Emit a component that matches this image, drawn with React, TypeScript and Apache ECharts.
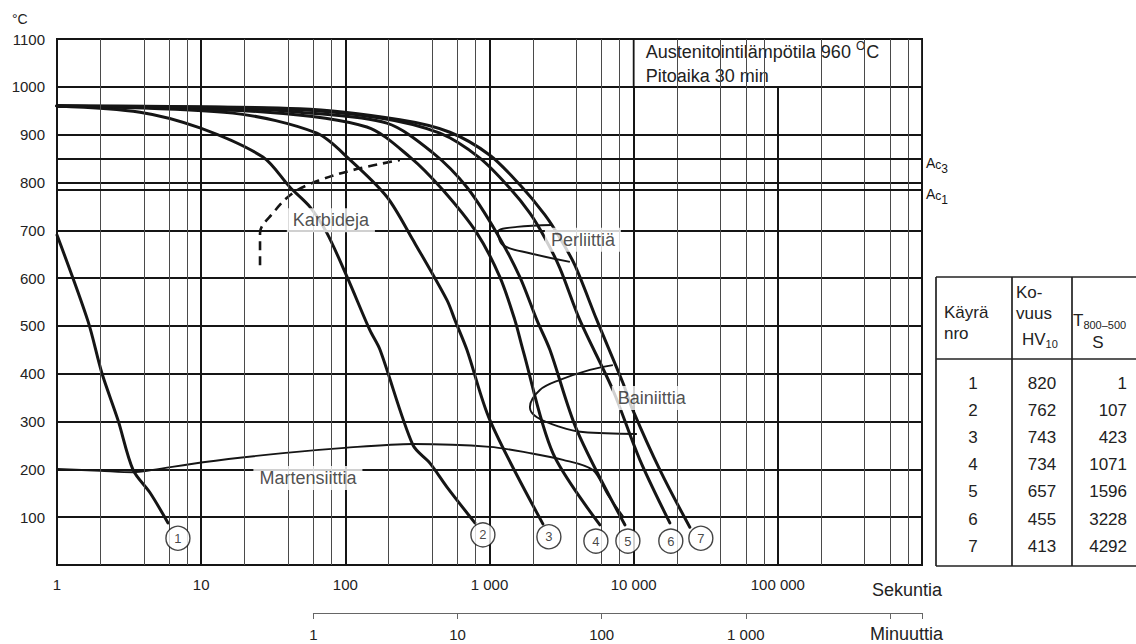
import React, { useEffect, useRef } from 'react';
import * as echarts from 'echarts';

const FONT = '"Liberation Sans", Arial, Helvetica, sans-serif';
const INK = '#151515';

// ---- cooling curves: time (s) / temperature (°C) ----
const curve1Time = [1, 1.64, 2.05, 2.65, 3.37, 4.42, 5.89];
const curve1Temp = [690, 510, 401, 303, 199, 151, 88];

const curve2Time = [1, 3.76, 9.81, 26.8, 41.3, 56.8, 74.6, 103, 148, 174, 294, 386, 507, 792];
const curve2Temp = [960, 947, 914, 853, 790, 749, 694, 602, 491, 450, 251, 213, 163, 88];

const curve3Time = [1, 16.6, 63.5, 108, 194, 294, 507, 576, 697, 1006, 2346];
const curve3Temp = [960, 945, 903, 847, 770, 680, 554, 512, 450, 303, 86];

const curve4Time = [1, 28.6, 141, 281, 475, 818, 1181, 1500, 1705, 2753, 5830];
const curve4Temp = [960, 947, 916, 853, 784, 694, 602, 512, 450, 234, 84];

const curve5Time = [1, 21.8, 48.4, 194, 405, 697, 1125, 1625, 2132, 2624, 4037, 8690];
const curve5Temp = [960, 954, 947, 924, 862, 790, 694, 602, 512, 450, 282, 84];

const curve6Time = [1, 35.2, 174, 453, 858, 1385, 1906, 2422, 3077, 4236, 7174, 11040, 17820];
const curve6Temp = [960, 954, 935, 903, 851, 788, 736, 684, 621, 512, 366, 220, 88];

const curve7Time = [1, 48.4, 239, 531, 1006, 1625, 2422, 3077, 3910, 5557, 8418, 9874, 15200, 24530];
const curve7Temp = [960, 954, 931, 905, 857, 795, 732, 684, 627, 512, 381, 324, 199, 79];

// ---- transformation lines ----
const msTime = [1, 2.0, 3.37, 4.63, 10.3, 37, 99, 294, 1006, 1910, 3237, 5190, 6640, 8530];
const msTemp = [201, 197, 194, 199, 215, 234, 245, 253, 247, 234, 220, 199, 146, 100];

const perliteTime = [2753, 1549, 1144, 1238, 1906, 3611];
const perliteTemp = [711, 707, 697, 669, 652, 634];

const bainiteTime = [7174, 4970, 3077, 2236, 1906, 2132, 3077, 4443, 10525];
const bainiteTemp = [418, 408, 387, 366, 330, 309, 289, 278, 274];

const carbideTime = [25.6, 25.6, 31.5, 43.3, 66.7, 113, 239];
const carbideTemp = [627, 694, 736, 778, 805, 826, 847];

// ---- critical temperatures ----
const acValues = [850, 785];
const acSubs = ['3', '1'];

// ---- region labels ----
const regionNames = ['Karbideja', 'Perliittiä', 'Bainiittia', 'Martensiittia'];
const regionTime = [79.4, 4446, 13370, 55];
const regionTemp = [721, 680, 349, 182];

// ---- curve number circles ----
const circleNames = ['1', '2', '3', '4', '5', '6', '7'];
const circleTime = [6.9, 900, 2582, 5470, 9120, 18100, 29240];
const circleTemp = [56, 63, 59, 50, 50, 50, 56];

// ---- table ----
const tableCurve = [1, 2, 3, 4, 5, 6, 7];
const tableHardness = [820, 762, 743, 734, 657, 455, 413];
const tableT85 = [1, 107, 423, 1071, 1596, 3228, 4292];

// ---- axis ticks ----
const decades = [1, 10, 100, 1000, 10000, 100000];
const minorMultipliers = [2, 4, 6, 8];
const minuteLabels = [1, 10, 100, 1000];

const GRID = { left: 57, top: 39, width: 865, height: 526 };

const pairs = (t: number[], T: number[]) => t.map((v, i) => [v, T[i]]);
const spaced = (n: number) => String(n).replace(/\B(?=(\d{3})+(?!\d))/g, ' ');

function buildOption(): any {
  const curves = [
    [curve1Time, curve1Temp],
    [curve2Time, curve2Temp],
    [curve3Time, curve3Temp],
    [curve4Time, curve4Temp],
    [curve5Time, curve5Temp],
    [curve6Time, curve6Temp],
    [curve7Time, curve7Temp],
  ];
  const minorValues: number[] = [];
  decades.forEach((d) => minorMultipliers.forEach((m) => minorValues.push(d * m)));

  const minuteOffset = (GRID.width * Math.log10(60)) / 6;

  const lineBase = {
    type: 'line',
    xAxisIndex: 0,
    yAxisIndex: 0,
    showSymbol: false,
    symbol: 'none',
    silent: true,
    animation: false,
  };

  const series: any[] = [];

  // minor vertical grid lines
  series.push({
    ...lineBase,
    name: 'minor',
    data: [],
    z: 1,
    markLine: {
      silent: true,
      symbol: ['none', 'none'],
      label: { show: false },
      lineStyle: { color: '#4a4a4a', width: 1, type: 'solid' },
      emphasis: { disabled: true },
      data: minorValues.map((v) => ({ xAxis: v })),
    },
  });

  // Ac lines
  series.push({
    ...lineBase,
    name: 'Ac',
    data: [],
    z: 2,
    markLine: {
      silent: true,
      symbol: ['none', 'none'],
      lineStyle: { color: INK, width: 1.9, type: 'solid' },
      emphasis: { disabled: true },
      label: {
        show: true,
        position: 'end',
        distance: 4,
        color: INK,
        fontFamily: FONT,
        fontSize: 14,
        padding: [8, 0, 0, 0],
        formatter: (p: any) => 'A{c|c}{n|' + p.name + '}',
        rich: {
          c: { fontSize: 12, fontFamily: FONT, color: INK, padding: [4, 0, 0, 0] },
          n: { fontSize: 12, fontFamily: FONT, color: INK, padding: [12, 0, 0, 0] },
        },
      },
      data: acValues.map((v, i) => ({ yAxis: v, name: acSubs[i] })),
    },
  });

  // info box
  series.push({
    ...lineBase,
    name: 'box',
    data: [],
    z: 3,
    markArea: {
      silent: true,
      itemStyle: { color: '#fff', borderColor: INK, borderWidth: 1.8 },
      label: {
        show: true,
        position: 'insideTopLeft',
        distance: 0,
        padding: [2, 0, 0, 13],
        color: '#222',
        fontFamily: FONT,
        fontSize: 18,
        lineHeight: 24,
        formatter: 'Austenitointilämpötila 960 {sup|O}C\nPitoaika 30 min',
        rich: {
          sup: { fontSize: 12, fontFamily: FONT, color: '#222', padding: [0, 1, 12, 0] },
        },
      },
      data: [[{ coord: [10000, 1000] }, { coord: [1000000, 1100] }]],
    },
  });

  curves.forEach((c, i) => {
    series.push({
      ...lineBase,
      name: 'Käyrä ' + (i + 1),
      data: pairs(c[0], c[1]),
      smooth: 0.3,
      z: 4,
      lineStyle: { color: INK, width: 3, cap: 'round', join: 'round' },
    });
  });

  series.push({
    ...lineBase,
    name: 'Ms',
    data: pairs(msTime, msTemp),
    smooth: 0.3,
    z: 4,
    lineStyle: { color: INK, width: 1.9 },
  });
  series.push({
    ...lineBase,
    name: 'Perliitti',
    data: pairs(perliteTime, perliteTemp),
    smooth: 0.35,
    z: 4,
    lineStyle: { color: INK, width: 1.9 },
  });
  series.push({
    ...lineBase,
    name: 'Bainiitti',
    data: pairs(bainiteTime, bainiteTemp),
    smooth: 0.35,
    z: 4,
    lineStyle: { color: INK, width: 1.9 },
  });
  series.push({
    ...lineBase,
    name: 'Karbidit',
    data: pairs(carbideTime, carbideTemp),
    smooth: 0.35,
    z: 4,
    lineStyle: { color: INK, width: 2.6, type: [9, 6] },
  });

  series.push({
    type: 'scatter',
    name: 'labels',
    xAxisIndex: 0,
    yAxisIndex: 0,
    silent: true,
    z: 6,
    symbol: 'circle',
    symbolSize: 1,
    itemStyle: { color: '#fff' },
    label: {
      show: true,
      position: 'inside',
      formatter: (p: any) => p.name,
      color: '#222',
      fontFamily: FONT,
      fontSize: 18,
      backgroundColor: '#fff',
      padding: [3, 6, 3, 6],
    },
    data: regionNames.map((n, i) => ({ name: n, value: [regionTime[i], regionTemp[i]] })),
  });

  series.push({
    type: 'scatter',
    name: 'circles',
    xAxisIndex: 0,
    yAxisIndex: 0,
    silent: true,
    z: 7,
    symbol: 'circle',
    symbolSize: 24,
    itemStyle: { color: '#fff', borderColor: INK, borderWidth: 1.4 },
    label: {
      show: true,
      position: 'inside',
      formatter: (p: any) => p.name,
      color: INK,
      fontFamily: FONT,
      fontSize: 13,
    },
    data: circleNames.map((n, i) => ({ name: n, value: [circleTime[i], circleTemp[i]] })),
  });

  // table graphics
  const tL = 936, tT = 277, tB = 566, tR = 1140, c1 = 1012, c2 = 1072, hB = 359;
  const lineStyle = { stroke: '#222', lineWidth: 1.7 };
  const graphic: any[] = [
    { type: 'line', shape: { x1: tL, y1: tT, x2: tR, y2: tT }, style: lineStyle },
    { type: 'line', shape: { x1: tL, y1: hB, x2: tR, y2: hB }, style: lineStyle },
    { type: 'line', shape: { x1: tL, y1: tB, x2: tR, y2: tB }, style: lineStyle },
    { type: 'line', shape: { x1: tL, y1: tT, x2: tL, y2: tB }, style: lineStyle },
    { type: 'line', shape: { x1: c1, y1: tT, x2: c1, y2: tB }, style: lineStyle },
    { type: 'line', shape: { x1: c2, y1: tT, x2: c2, y2: tB }, style: lineStyle },
  ];
  const txt = (text: string, x: number, y: number, align: string, size = 17, rich?: any) => ({
    type: 'text',
    x,
    y,
    style: {
      text,
      fill: '#222',
      fontFamily: FONT,
      fontSize: size,
      align,
      verticalAlign: 'middle',
      rich,
    },
  });
  const subRich = { s: { fontSize: 11, fontFamily: FONT, fill: '#222', padding: [10, 0, 0, 0] } };
  graphic.push(txt('Käyrä', 944, 312, 'left'));
  graphic.push(txt('nro', 944, 333, 'left'));
  graphic.push(txt('Ko-', 1016, 292, 'left'));
  graphic.push(txt('vuus', 1016, 313, 'left'));
  graphic.push(txt('HV{s|10}', 1022, 339, 'left', 17, subRich));
  graphic.push(txt('T{s|800–500}', 1073, 320, 'left', 17, subRich));
  graphic.push(txt('S', 1098, 342, 'center'));
  tableCurve.forEach((n, i) => {
    const y = 383 + i * 27.2;
    graphic.push(txt(String(n), 973, y, 'center'));
    graphic.push(txt(String(tableHardness[i]), 1042, y, 'center'));
    graphic.push(txt(String(tableT85[i]), 1127, y, 'right'));
  });
  graphic.push(txt('°C', 12, 19, 'left', 14));
  graphic.push(txt('Sekuntia', 872, 590, 'left', 18));
  graphic.push(txt('Minuuttia', 870, 634, 'left', 18));

  return {
    animation: false,
    backgroundColor: '#fff',
    textStyle: { fontFamily: FONT },
    grid: [
      {
        left: GRID.left,
        top: GRID.top,
        width: GRID.width,
        height: GRID.height,
        show: true,
        borderColor: INK,
        borderWidth: 2,
        backgroundColor: 'transparent',
        containLabel: false,
        outerBoundsMode: 'none',
      },
      {
        left: GRID.left + minuteOffset,
        top: 612,
        width: GRID.width - minuteOffset,
        height: 1,
        show: false,
        containLabel: false,
        outerBoundsMode: 'none',
      },
    ],
    xAxis: [
      {
        type: 'log',
        logBase: 10,
        gridIndex: 0,
        min: 1,
        max: 1000000,
        splitNumber: 6,
        axisLine: { show: false },
        axisTick: { show: false },
        axisLabel: {
          show: true,
          margin: 12,
          color: '#222',
          fontFamily: FONT,
          fontSize: 15,
          showMinLabel: true,
          showMaxLabel: false,
          formatter: (v: number) => {
            const r = Math.round(v);
            return r >= 1000000 ? '' : spaced(r);
          },
        },
        splitLine: { show: true, lineStyle: { color: INK, width: 2 } },
      },
      {
        type: 'log',
        logBase: 10,
        gridIndex: 1,
        min: 1,
        max: 1000000 / 60,
        position: 'bottom',
        axisLine: { show: true, lineStyle: { color: '#666', width: 1 } },
        axisTick: { show: true, length: 6, lineStyle: { color: '#666', width: 1 } },
        axisLabel: {
          show: true,
          margin: 14,
          color: '#222',
          fontFamily: FONT,
          fontSize: 15,
          showMinLabel: true,
          formatter: (v: number) => {
            const r = Math.round(v);
            return minuteLabels.indexOf(r) >= 0 && Math.abs(v - r) < 1e-6 ? spaced(r) : '';
          },
        },
        splitLine: { show: false },
      },
    ],
    yAxis: [
      {
        type: 'value',
        gridIndex: 0,
        min: 0,
        max: 1100,
        interval: 100,
        axisLine: { show: false },
        axisTick: { show: false },
        axisLabel: {
          margin: 12,
          color: '#222',
          fontFamily: FONT,
          fontSize: 15,
          formatter: (v: number) => (v === 0 ? '' : String(v)),
        },
        splitLine: { show: true, lineStyle: { color: INK, width: 1.8 } },
      },
      { type: 'value', gridIndex: 1, show: false, min: 0, max: 1 },
    ],
    series,
    graphic,
  };
}

export default function App() {
  const ref = useRef<HTMLDivElement>(null);
  useEffect(() => {
    if (!ref.current) return;
    const chart = echarts.init(ref.current, null, { renderer: 'svg' });
    chart.setOption(buildOption());
    return () => chart.dispose();
  }, []);
  return (
    <div
      ref={ref}
      style={{ position: 'fixed', left: 0, top: 0, width: 1136, height: 644, background: '#fff' }}
    />
  );
}
